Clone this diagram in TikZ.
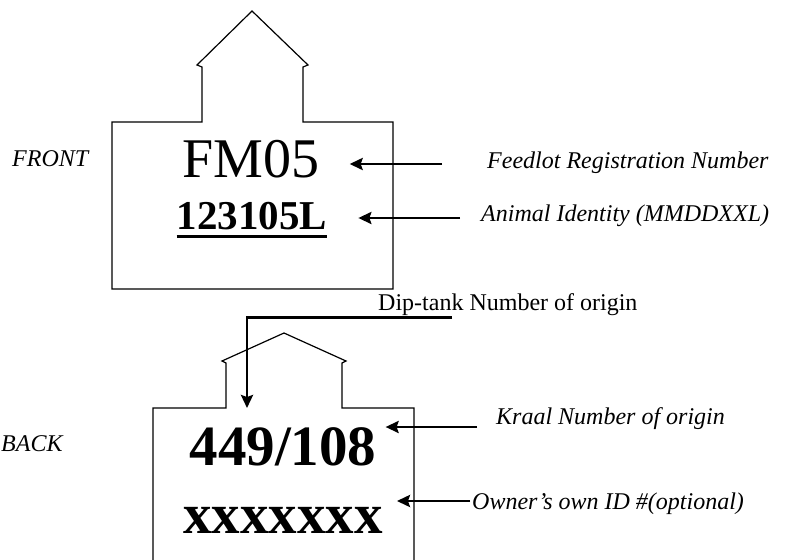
\documentclass[tikz,border=0pt]{standalone}
\usepackage{fontspec}
\setmainfont{Liberation Serif}
\usetikzlibrary{arrows.meta,positioning,calc}

\begin{document}
\begin{tikzpicture}[
    x=1pt,y=-1pt,
    tag/.style={draw=black,line width=1.2pt,line join=miter},
    code/.style={inner sep=0pt,anchor=base,font=\fontsize{57}{60}\selectfont\bfseries},
    lbl/.style={inner sep=0pt,anchor=west,font=\fontsize{24}{28}\selectfont\itshape},
    arr/.style={-{Stealth[length=13pt,width=12pt,inset=2pt]},line width=2.9pt}
]
\useasboundingbox (0,0) rectangle (788,560);

% front of the tag
\draw[tag] (112,289) -- (112,122) -- (202,122) -- (202,67) -- (197,65) -- (252,11)
    -- (308,65) -- (303,67) -- (303,122) -- (393,122) -- (393,289) -- cycle;
\node[code,font=\fontsize{56}{60}\selectfont] (fm) at (251,177) {FM05};
\node[code,font=\fontsize{41}{44}\selectfont\bfseries] (id) at (252,229) {123105L};
\draw[line width=3pt] ([yshift=-7pt]id.base west) -- ([yshift=-7pt]id.base east);

\node[lbl] (front) at (12,159) {FRONT};
\node[lbl] (feedlot) at (487,163) {Feedlot Registration Number};
\node[lbl] (animal) at (481,216) {Animal Identity (MMDDXXL)};

\coordinate (feedTail) at ([xshift=-45pt,yshift=-1pt]feedlot.west);
\coordinate (animalTail) at ([xshift=-21pt,yshift=-2pt]animal.west);
\draw[arr,shorten >=30pt] (feedTail) -- (feedTail -| fm.east);
\draw[arr,shorten >=31pt] (animalTail) -- (animalTail -| id.east);

% back of the tag
\draw[tag] (153,560) -- (153,408) -- (226,408) -- (226,363) -- (222,361) -- (284,333)
    -- (346,361) -- (342,363) -- (342,408) -- (414,408) -- (414,560);
\node[code] (num) at (283,465) {449/108};
\node[code] (own) at (283,533) {xxxxxxx};

\node[lbl] (back) at (1,444) {BACK};
\node[lbl] (kraal) at (496,419) {Kraal Number of origin};
\node[lbl] (owner) at (472,504) {Owner’s own ID \#(optional)};
\node[lbl,font=\fontsize{24}{28}\selectfont] (dip) at (378,305) {Dip-tank Number of origin};

\coordinate (kraalTail) at ([xshift=-19pt,yshift=-8pt]kraal.west);
\coordinate (ownerTail) at ([xshift=-2pt,yshift=3pt]owner.west);
\coordinate (dipTail) at ([xshift=74pt,yshift=-1pt]dip.south west);
\coordinate (dipTip) at (247,408);
\draw[arr,shorten >=9pt] (kraalTail) -- (kraalTail -| num.east);
\draw[arr,shorten >=14pt] (ownerTail) -- (ownerTail -| own.east);
\draw[arr] (dipTail) -| (dipTip);
\end{tikzpicture}
\end{document}
